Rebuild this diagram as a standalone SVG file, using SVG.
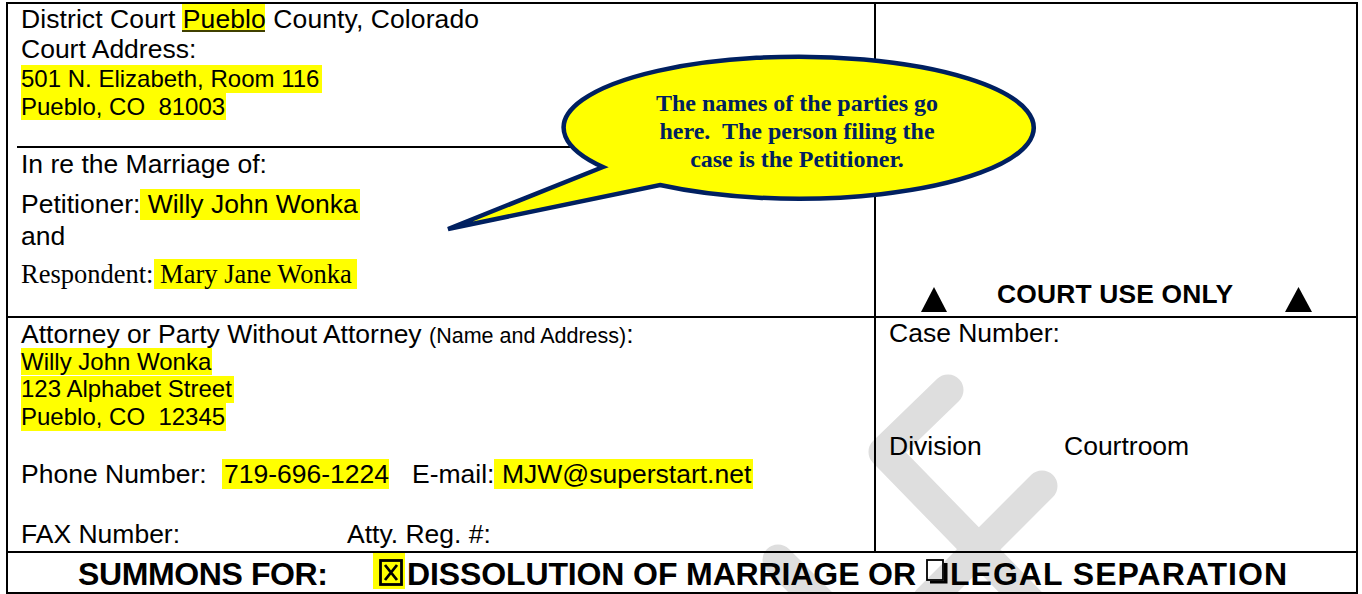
<svg xmlns="http://www.w3.org/2000/svg" width="1362" height="594" viewBox="0 0 1362 594">
<style>
  text { white-space: pre; }
  .sans { font-family: "Liberation Sans", Arial, sans-serif; fill: #000; }
  .serif { font-family: "Liberation Serif", "Times New Roman", serif; fill: #000; }
  .f12 { font-size: 26.5px; }
  .f11 { font-size: 24px; }
  .f10 { font-size: 21.5px; }
  .b { font-weight: bold; }
  .hl { fill: #FFFF00; }
  .rule { stroke: #000; stroke-width: 2; fill: none; }
  .wm { stroke: #DEDEDE; stroke-width: 31; stroke-linecap: round; stroke-linejoin: round; fill: none; }
  .callout { fill: #FFFF00; stroke: #002060; stroke-width: 4.5; stroke-linejoin: miter; }
  .ctext { font-family: "Liberation Serif", "Times New Roman", serif; font-weight: bold; font-size: 24px; fill: #002060; text-anchor: middle; }
  .sum { font-family: "Liberation Sans", Arial, sans-serif; font-weight: bold; font-size: 32px; fill: #000; }
</style>
<rect x="0" y="0" width="1362" height="594" fill="#FFFFFF"/>

<g id="watermark">
  <path class="wm" d="M948,390 L884,452 L1030,602"/>
  <path class="wm" d="M1042,486 L928,600"/>
  <path class="wm" d="M778,560 L830,612"/>
</g>

<g id="connectors">
  <rect class="rule" x="7" y="3" width="1350" height="590"/>
  <line class="rule" x1="875" y1="3" x2="875" y2="552"/>
  <line class="rule" x1="17" y1="147" x2="875" y2="147"/>
  <line class="rule" x1="7" y1="317" x2="1357" y2="317"/>
  <line class="rule" x1="7" y1="552" x2="1357" y2="552"/>
</g>

<g id="court-info">
  <rect class="hl" x="182" y="4" width="83" height="28"/>
  <text class="sans f12" x="21" y="28" textLength="458">District Court <tspan>Pueblo</tspan> County, Colorado</text>
  <line x1="182" y1="31" x2="265" y2="31" stroke="#000" stroke-width="1.5"/>
  <text class="sans f12" x="21" y="58">Court Address:</text>
  <rect class="hl" x="21" y="65" width="301" height="28"/>
  <text class="sans f11" x="21" y="87">501 N. Elizabeth, Room 116</text>
  <rect class="hl" x="21" y="93" width="205" height="27"/>
  <text class="sans f11" x="21" y="115">Pueblo, CO  81003</text>
</g>

<g id="parties">
  <text class="sans f12" x="21" y="173">In re the Marriage of:</text>
  <rect class="hl" x="140" y="189" width="220" height="31"/>
  <text class="sans f12" x="21" y="213">Petitioner: Willy John Wonka</text>
  <text class="sans f12" x="21" y="245">and</text>
  <rect class="hl" x="154" y="259" width="203" height="30"/>
  <text class="serif f12" x="21" y="283">Respondent: Mary Jane Wonka</text>
</g>

<g id="court-use-only">
  <polygon points="921,312 934,287 947,312" fill="#000"/>
  <text class="sans b" font-size="26.4" x="997" y="303" textLength="236">COURT USE ONLY</text>
  <polygon points="1285,312 1298.5,287 1312,312" fill="#000"/>
</g>

<g id="attorney">
  <text class="sans f12" x="21" y="343">Attorney or Party Without Attorney <tspan class="f10">(Name and Address)</tspan>:</text>
  <rect class="hl" x="21" y="348" width="191" height="27"/>
  <text class="sans f11" x="21" y="370">Willy John Wonka</text>
  <rect class="hl" x="21" y="376" width="213" height="27"/>
  <text class="sans f11" x="21" y="397">123 Alphabet Street</text>
  <rect class="hl" x="21" y="403" width="205" height="28"/>
  <text class="sans f11" x="21" y="425">Pueblo, CO  12345</text>
  <rect class="hl" x="222" y="459" width="167" height="30"/>
  <rect class="hl" x="494" y="459" width="259" height="30"/>
  <text class="sans f12" x="21" y="483">Phone Number:</text>
  <text class="sans f12" x="224" y="483">719-696-1224</text>
  <text class="sans f12" x="412" y="483">E-mail:</text>
  <text class="sans f12" x="502" y="483">MJW@superstart.net</text>
  <text class="sans f12" x="21" y="543">FAX Number:</text>
  <text class="sans f12" x="347" y="543">Atty. Reg. #:</text>
</g>

<g id="case-number">
  <text class="sans f12" x="889" y="342">Case Number:</text>
  <text class="sans f12" x="889" y="455">Division</text>
  <text class="sans f12" x="1064" y="455">Courtroom</text>
</g>

<g id="summons">
  <text class="sum" x="78" y="585" textLength="250">SUMMONS FOR:</text>
  <rect class="hl" x="373" y="553" width="32" height="36"/>
  <rect x="380.5" y="560.5" width="21" height="24" fill="none" stroke="#000" stroke-width="2.8"/>
  <path d="M385,565 L397,580 M397,565 L385,580" stroke="#000" stroke-width="2.8" fill="none"/>
  <text class="sum" x="407" y="585" textLength="509">DISSOLUTION OF MARRIAGE OR</text>
  <rect x="927" y="560" width="16" height="20" fill="none" stroke="#000" stroke-width="1.8"/>
  <path d="M943.9,563 L947.5,563 L947.5,583.5 L930,583.5 L930,580.9 L943.9,580.9 Z" fill="#000"/>
  <text class="sum" x="950" y="585" textLength="337">LEGAL SEPARATION</text>
</g>

<g id="callout">
  <path class="callout" d="M603,167 L448,229 L660,185 A235,71 0 1 0 603,167 Z"/>
  <text class="ctext" x="797" y="111">The names of the parties go</text>
  <text class="ctext" x="797" y="139">here.  The person filing the</text>
  <text class="ctext" x="797" y="167">case is the Petitioner.</text>
</g>
</svg>
